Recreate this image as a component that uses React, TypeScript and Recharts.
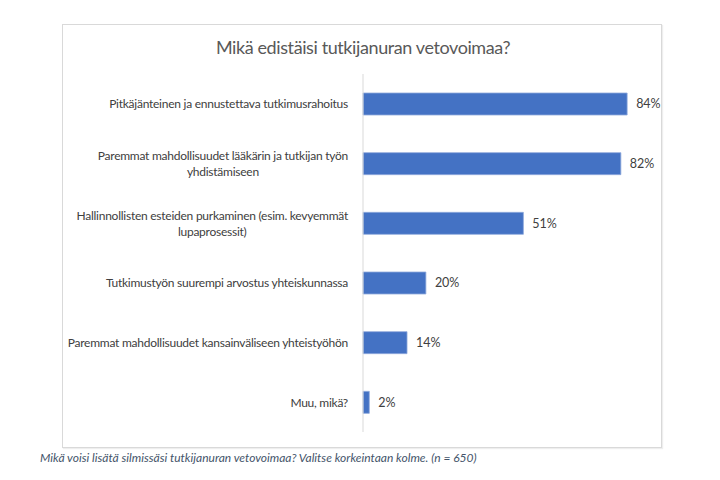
import React from 'react';
import { BarChart, Bar, XAxis, YAxis, LabelList } from 'recharts';

const categories = [
  'Pitkäjänteinen ja ennustettava tutkimusrahoitus',
  'Paremmat mahdollisuudet lääkärin ja tutkijan työn\nyhdistämiseen',
  'Hallinnollisten esteiden purkaminen (esim. kevyemmät\nlupaprosessit)',
  'Tutkimustyön suurempi arvostus yhteiskunnassa',
  'Paremmat mahdollisuudet kansainväliseen yhteistyöhön',
  'Muu, mikä?',
];

const shares = [84, 82, 51, 20, 14, 2];

const chartData = categories.map((name, i) => ({ name, value: shares[i] }));

const font = "Lato, 'Open Sans', sans-serif";

const CategoryTick = (props: any) => {
  const { x, y, payload } = props;
  const lines: string[] = String(payload.value).split('\n');
  const lineH = 16;
  const right = x - 7;
  return (
    <g>
      {lines.map((line, i) => {
        const dy = (i - (lines.length - 1) / 2) * lineH;
        return (
          <text
            key={i}
            x={right}
            y={y + dy}
            textAnchor="end"
            dominantBaseline="central"
            fill="#404040"
            fontSize={12}
            letterSpacing={-0.25}
            fontFamily={font}
            ref={(el) => {
              // second line is centred under the first one
              if (!el || i === 0) return;
              const first = el.parentNode?.firstChild as SVGTextElement | null;
              if (!first) return;
              const w0 = first.getComputedTextLength();
              const w1 = el.getComputedTextLength();
              el.setAttribute('x', String(right - (w0 - w1) / 2));
            }}
          >
            {line}
          </text>
        );
      })}
    </g>
  );
};

export default function App() {
  return (
    <div style={{ position: 'absolute', left: 0, top: 0, width: 720, height: 480, background: '#fff' }}>
      <div
        style={{
          position: 'absolute', left: 62, top: 24, width: 600, height: 424,
          border: '1px solid #d9d9d9', boxSizing: 'border-box', boxShadow: '1px 1px 1px #eeeeee',
        }}
      >
        <div
          style={{
            position: 'absolute', left: 0, top: 11, width: 600, textAlign: 'center',
            fontFamily: font, fontSize: 18, letterSpacing: -0.4, color: '#595959',
          }}
        >
          Mikä edistäisi tutkijanuran vetovoimaa?
        </div>
        <BarChart
          width={598}
          height={422}
          data={chartData}
          layout="vertical"
          margin={{ top: 49, right: 15, left: 0, bottom: 15 }}
        >
          <XAxis type="number" domain={[0, 90]} hide />
          <YAxis
            dataKey="name"
            type="category"
            width={300}
            interval={0}
            axisLine={{ stroke: '#d9d9d9' }}
            tickLine={false}
            tick={<CategoryTick />}
          />
          <Bar dataKey="value" fill="#4472c4" stroke="#8faadc" strokeWidth={0.8} barSize={22} isAnimationActive={false}>
            <LabelList
              dataKey="value"
              position="right"
              offset={9}
              formatter={(v: any) => `${v}%`}
              style={{ fill: '#404040', fontSize: 12.5, fontFamily: font }}
            />
          </Bar>
        </BarChart>
      </div>
      <div
        style={{
          position: 'absolute', left: 40, top: 450, fontFamily: font, fontSize: 12,
          fontStyle: 'italic', color: '#44546a', whiteSpace: 'nowrap',
        }}
      >
        Mikä voisi lisätä silmissäsi tutkijanuran vetovoimaa? Valitse korkeintaan kolme. (n = 650)
      </div>
    </div>
  );
}
